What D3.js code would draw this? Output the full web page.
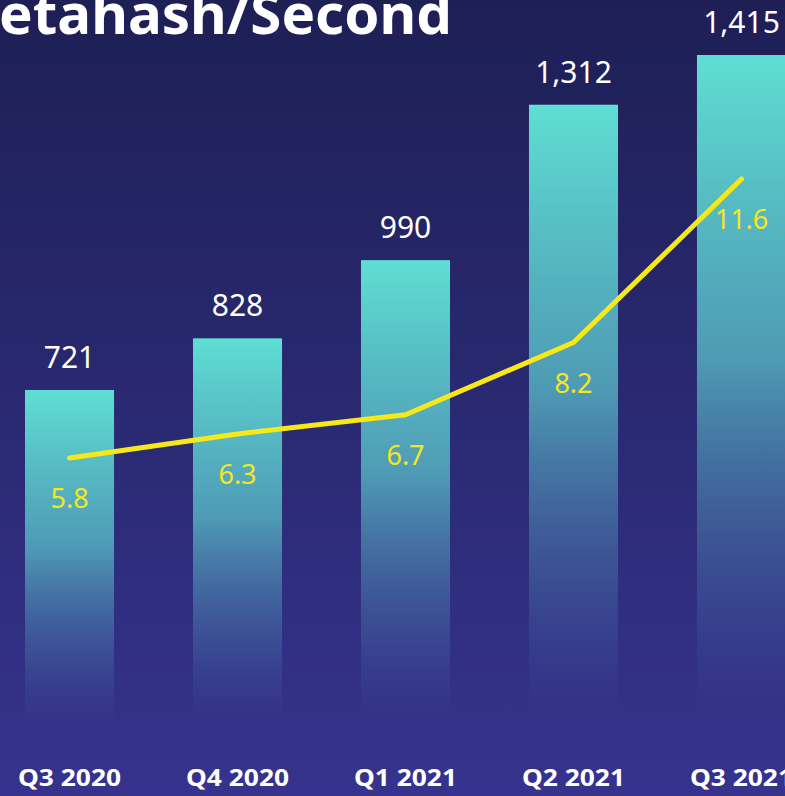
<!DOCTYPE html>
<html><head><meta charset="utf-8">
<script src="https://cdn.jsdelivr.net/npm/d3@7"></script>
<style>html,body{margin:0;padding:0;background:#1e2056;}svg{display:block;}</style>
</head><body>
<script>
const categories = ["Q3 2020","Q4 2020","Q1 2021","Q2 2021","Q3 2021"];
const hashrate = [721, 828, 990, 1312, 1415];
const difficulty = [5.8, 6.3, 6.7, 8.2, 11.6];
const title = "Petahash/Second";

const W = 785, H = 796;
const svg = d3.select("body").append("svg").attr("width", W).attr("height", H);
const defs = svg.append("defs");
const bg = defs.append("linearGradient").attr("id","bg").attr("x1",0).attr("y1",0).attr("x2",0).attr("y2",1);
bg.append("stop").attr("offset","0%").attr("stop-color","#1d1f55");
bg.append("stop").attr("offset","100%").attr("stop-color","#36338e");
const bar = defs.append("linearGradient").attr("id","bar").attr("x1",0).attr("y1",0).attr("x2",0).attr("y2",1);
bar.append("stop").attr("offset","0%").attr("stop-color","#5fded3").attr("stop-opacity",1);
bar.append("stop").attr("offset","45%").attr("stop-color","#55aec0").attr("stop-opacity",0.85);
bar.append("stop").attr("offset","96%").attr("stop-color","#4a6fb0").attr("stop-opacity",0);

svg.append("rect").attr("width",W).attr("height",H).attr("fill","url(#bg)");

const x = d3.scaleBand().domain(categories).range([25, 786]).paddingInner(0.47).paddingOuter(0);
const y = d3.scaleLinear().domain([0, 1415]).range([738, 55]);
const y2 = d3.scaleLinear().domain([0, 11.6]).range([737, 179]);

svg.selectAll("rect.bar").data(hashrate).join("rect").attr("class","bar")
  .attr("x",(d,i)=>x(categories[i])).attr("width",x.bandwidth())
  .attr("y",d=>y(d)).attr("height",d=>y(0)-y(d)).attr("fill","url(#bar)");

svg.selectAll("text.val").data(hashrate).join("text").attr("class","val")
  .attr("x",(d,i)=>x(categories[i])+x.bandwidth()/2).attr("y",d=>y(d)-22)
  .attr("text-anchor","middle").attr("fill","#ffffff")
  .style("font-family","'Noto Sans', sans-serif").style("font-size","30px")
  .text(d=>d3.format(",")(d));

const cx = (d,i)=>x(categories[i])+x.bandwidth()/2;
svg.append("path").datum(difficulty)
  .attr("d", d3.line().x(cx).y(d=>y2(d)))
  .attr("fill","none").attr("stroke","#f7e81a").attr("stroke-width",5)
  .attr("stroke-linecap","round").attr("stroke-linejoin","round");

svg.selectAll("text.diff").data(difficulty).join("text").attr("class","diff")
  .attr("x",cx).attr("y",d=>y2(d)+50)
  .attr("text-anchor","middle").attr("fill","#f4e623")
  .style("font-family","'Noto Sans', sans-serif").style("font-size","27px")
  .text(d=>d3.format(".1f")(d));

const xAxis = svg.append("g").attr("transform","translate(0,786)")
  .call(d3.axisBottom(x).tickSize(0).tickPadding(0));
xAxis.select(".domain").remove();
xAxis.selectAll("text").attr("fill","#ffffff").attr("dy",0)
  .style("font-family","'Noto Sans', sans-serif").style("font-size","23px").style("font-weight","bold")
  .attr("textLength",103).attr("lengthAdjust","spacingAndGlyphs");

svg.append("text").attr("x",-36).attr("y",34).attr("text-anchor","start")
  .attr("textLength",488).attr("lengthAdjust","spacingAndGlyphs")
  .attr("fill","#ffffff").style("font-family","'Noto Sans', sans-serif")
  .style("font-size","56px").style("font-weight","bold").text(title);
</script>
</body></html>
